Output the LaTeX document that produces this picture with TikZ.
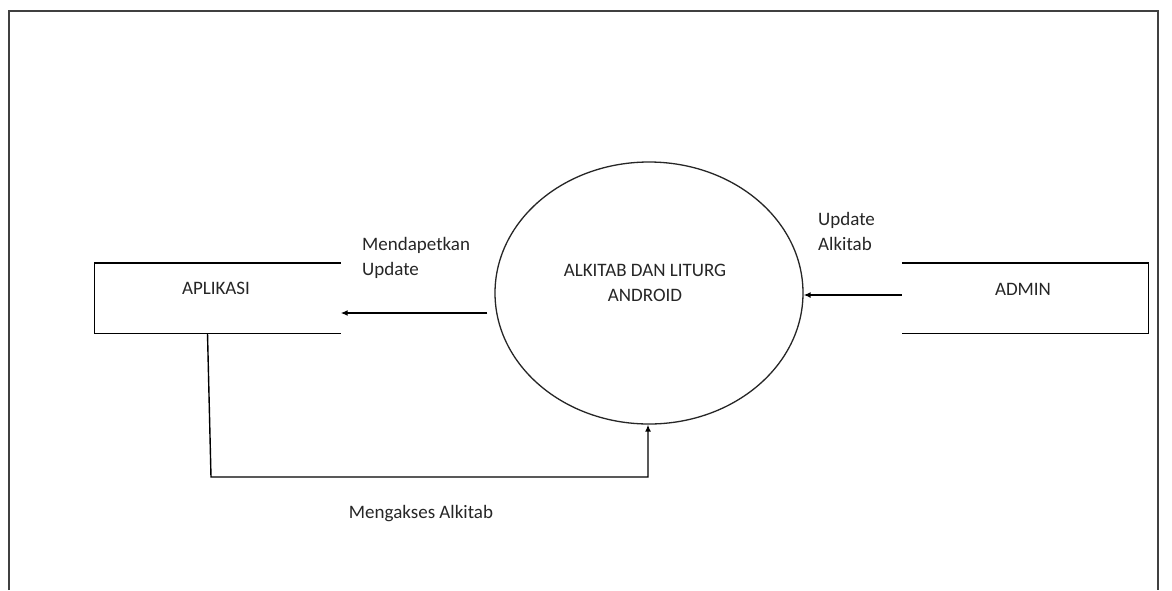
\documentclass[tikz,border=0pt]{standalone}
\usepackage{fontspec}
\setmainfont{Carlito}
\usetikzlibrary{shapes.geometric,arrows.meta,calc}
\begin{document}
\begin{tikzpicture}[x=1pt,y=-1pt,
  frameline/.style={draw=black!75,line width=2pt},
  line/.style={draw=black,line width=1.4pt},
  flow/.style={line,-{Latex[length=7pt,width=6pt]}},
  entity/.style={minimum width=246pt,minimum height=70pt,inner sep=0pt},
  proc/.style={ellipse,draw=black!85,line width=1.3pt,minimum width=308pt,minimum height=262pt,inner sep=0pt},
  txt/.style={font=\fontsize{19}{25}\selectfont,text=black!85,inner sep=0pt},
  lbl/.style={txt,align=left,anchor=north west}]
\useasboundingbox (0,0) rectangle (1172,590);
\fill[white] (0,0) rectangle (1172,590);
% outer frame (open at the bottom)
\draw[frameline] (9,590) -- (9,11) -- (1158,11) -- (1158,590);
% external entities
\node[entity] (apl) at (217.5,298) {};
\draw[line] (apl.north east) -- (apl.north west) -- (apl.south west) -- (apl.south east);
\node[txt] (aplT) at (216,288) {APLIKASI};
\node[entity] (adm) at (1025,298) {};
\draw[line] (adm.north west) -- (adm.north east) -- (adm.south east) -- (adm.south west);
\node[txt] (admT) at (1023,289) {ADMIN};
% process
\node[proc] (proc) at (649,293) {};
\node[txt,align=center] (procT) at (645,283) {ALKITAB DAN LITURG\\ANDROID};
% flows
\draw[flow] ([xshift=-7pt,yshift=-20pt]proc.west) -- ([yshift=-15pt]apl.east);
\draw[flow] ([yshift=3pt]adm.west) -- ([yshift=3pt]adm.west -| proc.east);
\coordinate (c1) at (211,477);
\coordinate (c2) at (648,477);
\draw[flow] ([xshift=-10pt]apl.south) -- (c1) -- (c2) -- (c2 |- proc.south);
% labels
\node[lbl] (l1) at (362,237) {Mendapetkan\\Update};
\node[lbl] (l2) at (818,212) {Update\\Alkitab};
\node[txt] (l3) at (421,514) {Mengakses Alkitab};
\end{tikzpicture}
\end{document}
